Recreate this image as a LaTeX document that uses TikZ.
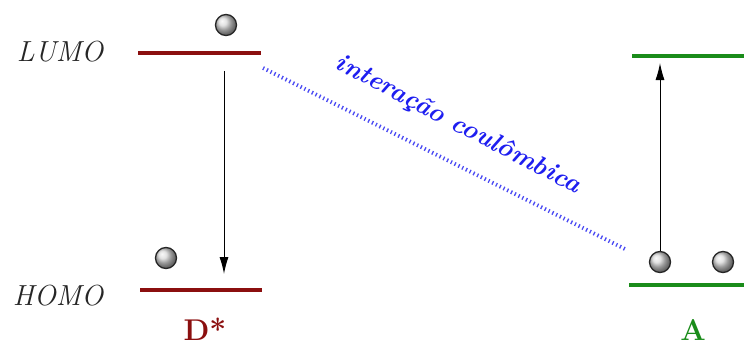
\documentclass[tikz,border=0pt]{standalone}
\usepackage{tikz}
\usetikzlibrary{arrows.meta,positioning,calc}
\definecolor{DonRed}{HTML}{8B0F0F}
\definecolor{AccGreen}{HTML}{1A8C1A}
\definecolor{CoulBlue}{HTML}{1E1EF0}
\tikzset{
  level/.style={line width=4.5pt},
  elec/.style={circle,minimum size=21pt,inner sep=0pt,draw=black!85,line width=1.3pt,
    ball color=white!85!black},
  orbname/.style={font=\fontsize{29}{32}\selectfont\itshape,text=black!85},
  molname/.style={font=\fontsize{30}{34}\selectfont\bfseries,inner sep=0pt,anchor=base},
  trans/.style={-{Latex[length=17pt,width=9pt]},line width=1pt},
}
\begin{document}
\begin{tikzpicture}[x=1pt,y=-1pt]
  \useasboundingbox (0,0) rectangle (744,345);
  % energy levels of D* and A
  \coordinate (dL1) at (138,53);  \coordinate (dL2) at (261,53);
  \coordinate (dH1) at (140,290); \coordinate (dH2) at (262,290);
  \coordinate (aL1) at (632,56);  \coordinate (aL2) at (744,56);
  \coordinate (aH1) at (629,285); \coordinate (aH2) at (744,285);
  \draw[level,DonRed] (dL1)--(dL2);
  \draw[level,DonRed] (dH1)--(dH2);
  \draw[level,AccGreen] (aL1)--(aL2);
  \draw[level,AccGreen] (aH1)--(aH2);
  \node[orbname] (lumo) at (60,52) {LUMO};
  \node[orbname] (homo) at (58,296) {HOMO};
  \node[molname,DonRed] (don) at (205,340) {D*};
  \node[molname,AccGreen] (acc) at (693,340) {A};
  % electrons
  \node[elec] (e1) at (226,25) {};
  \node[elec] (e2) at (166,258) {};
  \node[elec] (e3) at (660,262) {};
  \node[elec] (e4) at (723,262) {};
  % transitions
  \coordinate (dtop) at (224,71);  \coordinate (dbot) at (224,274);
  \coordinate (atop) at (660,63);
  \draw[trans] (dtop)--(dbot);
  \draw[trans] (e3.north)--(atop);
  % coulomb interaction
  \coordinate (c1) at (263,68); \coordinate (c2) at (627,250);
  \draw[CoulBlue!80,line width=4pt,dash pattern=on 1.3pt off 2.9pt] (c1)--(c2);
  \node[CoulBlue,rotate=-27.5,font=\fontsize{26}{30}\selectfont\bfseries\itshape]
    (coul) at (458,125) {interação coulômbica};
\end{tikzpicture}
\end{document}
